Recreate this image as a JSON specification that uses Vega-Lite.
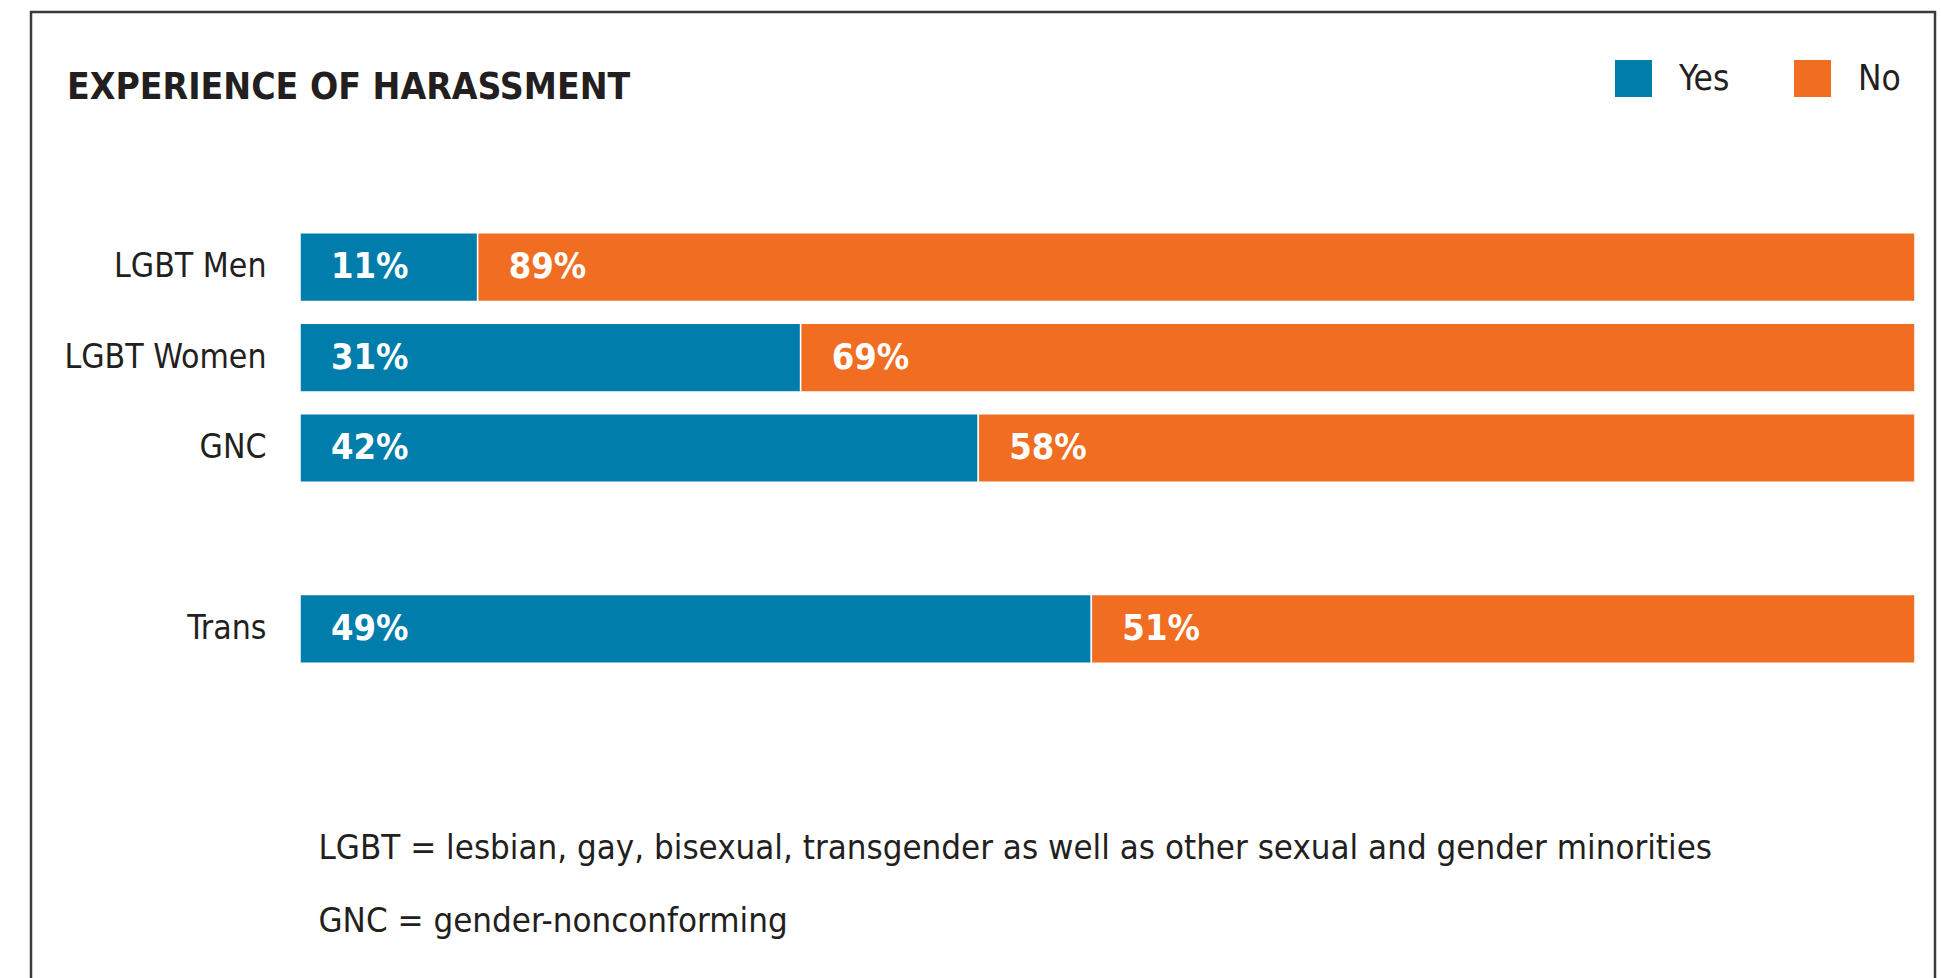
{
  "$schema": "https://vega.github.io/schema/vega-lite/v6.json",
  "width": 1904,
  "height": 966,
  "autosize": {"type": "none"},
  "padding": {"left": 31, "top": 12, "right": 6, "bottom": 0},
  "background": "white",
  "title": {
    "text": "EXPERIENCE OF HARASSMENT",
    "anchor": "start",
    "frame": "group",
    "orient": "top",
    "offset": 0,
    "baseline": "alphabetic",
    "dx": 36,
    "dy": 124,
    "font": "DejaVu Sans Condensed, DejaVu Sans",
    "fontSize": 37,
    "fontWeight": "bold",
    "color": "#231F20"
  },
  "config": {
    "view": {"stroke": "#3a3a3a", "strokeWidth": 2.5, "strokeDash": [2870, 1904, 990]},
    "font": "DejaVu Sans Condensed, DejaVu Sans"
  },
  "data": {
    "values": [
      {"group": "LGBT Men", "answer": "Yes", "pct": 0.11},
      {"group": "LGBT Men", "answer": "No", "pct": 0.89},
      {"group": "LGBT Women", "answer": "Yes", "pct": 0.31},
      {"group": "LGBT Women", "answer": "No", "pct": 0.69},
      {"group": "GNC", "answer": "Yes", "pct": 0.42},
      {"group": "GNC", "answer": "No", "pct": 0.58},
      {"group": "Trans", "answer": "Yes", "pct": 0.49},
      {"group": "Trans", "answer": "No", "pct": 0.51}
    ]
  },
  "transform": [
    {"stack": "pct", "groupby": ["group"], "sort": [{"field": "answer", "order": "descending"}], "as": ["x0", "x1"]}
  ],
  "encoding": {
    "y": {
      "field": "group",
      "type": "nominal",
      "scale": {
        "domain": ["LGBT Men", "LGBT Women", "GNC", " ", "Trans"],
        "range": [210, 662],
        "paddingInner": 0.24,
        "paddingOuter": 0.12
      },
      "axis": {
        "title": null,
        "orient": "left",
        "ticks": false,
        "tickSize": 0,
        "domain": false,
        "grid": false,
        "labelPadding": 0,
        "labelLimit": 0,
        "offset": -235,
        "labelFontSize": 33.5,
        "labelColor": "#231F20",
        "labelFont": "DejaVu Sans Condensed, DejaVu Sans"
      }
    }
  },
  "layer": [
    {
      "mark": {"type": "bar", "stroke": "white", "strokeWidth": 1.5},
      "encoding": {
        "x": {
          "field": "x0",
          "type": "quantitative",
          "scale": {"domain": [0, 1], "range": [269, 1884], "nice": false, "zero": false},
          "axis": {
            "title": ["LGBT = lesbian, gay, bisexual, transgender as well as other sexual and gender minorities", "GNC = gender-nonconforming"],
            "orient": "bottom",
            "labels": false,
            "ticks": false,
            "domain": false,
            "grid": false,
            "titleX": 287,
            "titleY": -120,
            "titleAnchor": "start",
            "titleAlign": "left",
            "titleAngle": 0,
            "titleBaseline": "alphabetic",
            "titleLineHeight": 73,
            "titleFontSize": 34.6,
            "titleFontWeight": "normal",
            "titleColor": "#231F20",
            "titleFont": "DejaVu Sans Condensed, DejaVu Sans"
          }
        },
        "x2": {"field": "x1"},
        "color": {
          "field": "answer",
          "type": "nominal",
          "scale": {"domain": ["Yes", "No"], "range": ["#007DAA", "#F06D22"]},
          "legend": {
            "title": null,
            "orient": "none",
            "legendX": 1584,
            "legendY": 48,
            "direction": "horizontal",
            "symbolType": "square",
            "symbolSize": 1369,
            "symbolStrokeWidth": 0,
            "symbolOpacity": 1,
            "labelFontSize": 35,
            "labelColor": "#231F20",
            "labelOffset": 27,
            "columnPadding": 64,
            "padding": 0,
            "labelFont": "DejaVu Sans Condensed, DejaVu Sans"
          }
        }
      }
    },
    {
      "mark": {
        "type": "text",
        "align": "left",
        "baseline": "middle",
        "dx": 31,
        "color": "white",
        "fontSize": 36,
        "fontWeight": "bold",
        "font": "DejaVu Sans Condensed, DejaVu Sans"
      },
      "encoding": {
        "x": {"field": "x0", "type": "quantitative"},
        "text": {"field": "pct", "type": "quantitative", "format": ".0%"}
      }
    }
  ]
}
